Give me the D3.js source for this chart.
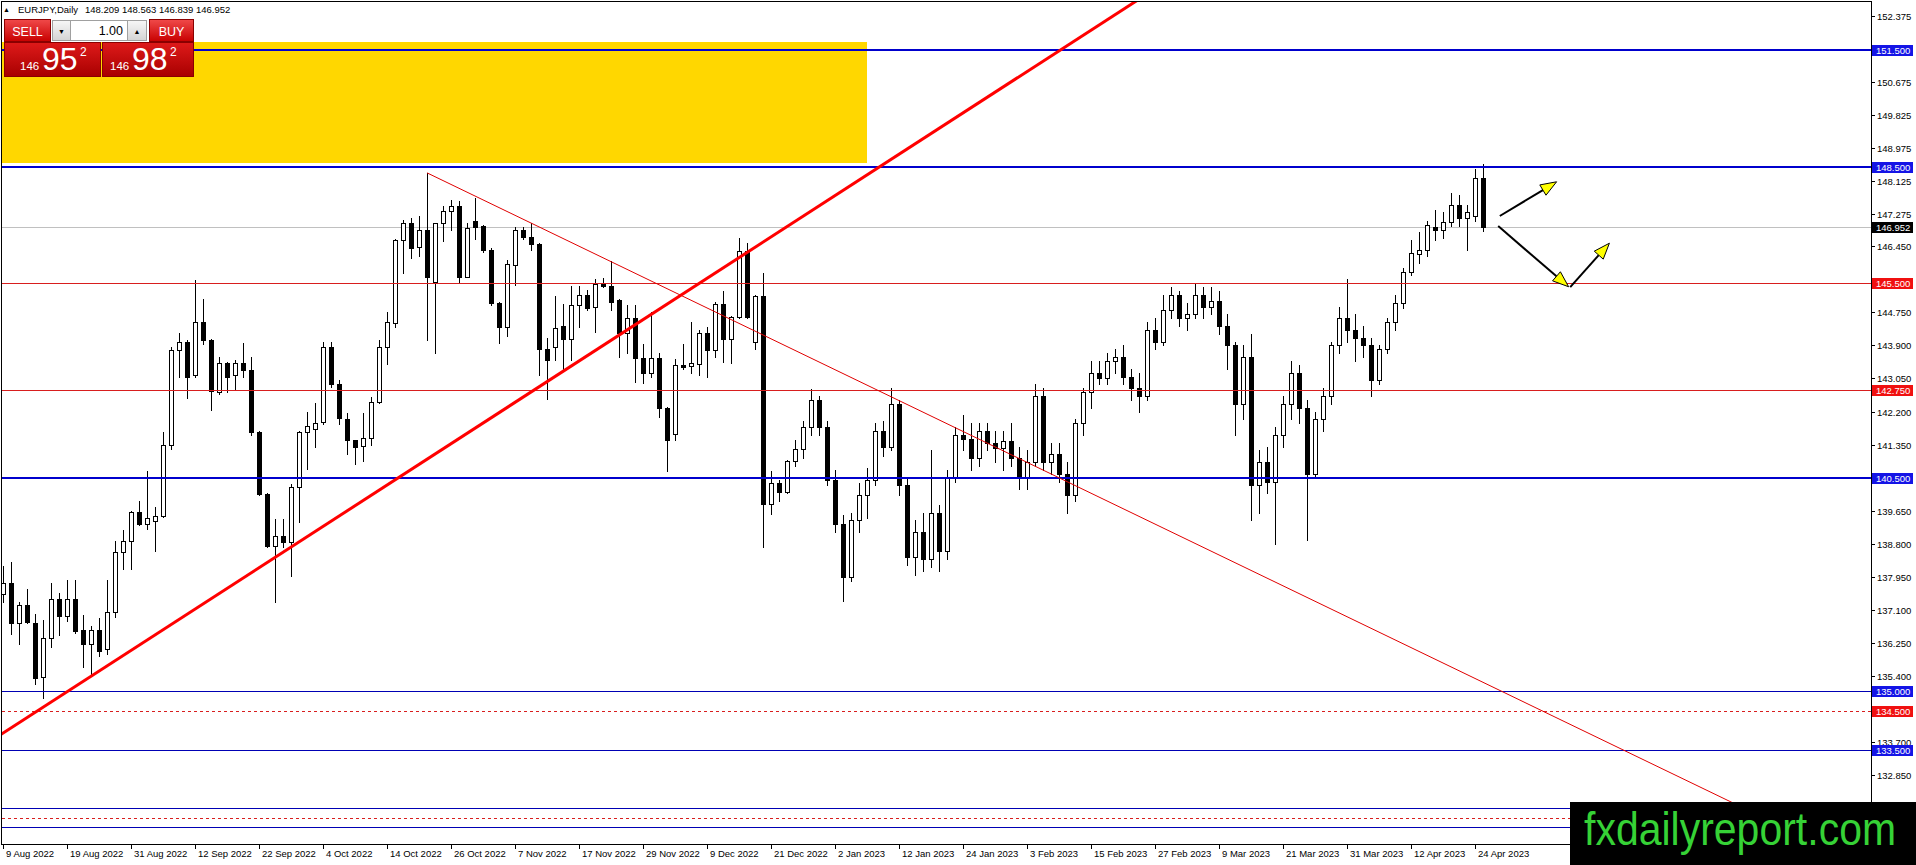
<!DOCTYPE html>
<html>
<head>
<meta charset="utf-8">
<script src="https://cdnjs.cloudflare.com/ajax/libs/d3/7.8.5/d3.min.js"></script>
<style>
  body { margin: 0; background: #fff; }
  svg { display: block; }
</style>
</head>
<body>
<div id="chart"></div>
<script>
// ---- data (EURJPY daily) ----
const symbolTitle = 'EURJPY,Daily';
const lastQuote = ['148.209', '148.563', '146.839', '146.952'];

const opens = [
  137.50,137.79,136.77,137.22,136.77,135.38,136.38,137.37,136.94,137.37,
  136.57,136.23,136.57,136.08,137.05,138.58,138.88,139.61,139.31,139.39,
  139.50,141.33,143.78,143.99,143.14,144.51,144.04,142.69,143.46,143.14,
  143.46,143.27,141.67,140.08,138.75,139.01,138.84,140.25,141.67,141.76,
  141.93,143.85,142.90,142.02,141.46,141.31,141.53,142.45,143.85,144.47,
  146.60,147.05,146.43,146.88,145.52,147.05,147.35,147.48,145.67,147.09,
  146.96,146.36,145.00,144.38,145.98,146.86,146.69,146.51,143.82,143.85,
  144.40,144.06,144.94,145.20,144.90,145.48,145.42,145.07,144.21,144.60,
  143.57,143.18,143.57,142.28,141.63,143.40,143.37,143.42,144.21,143.78,
  144.96,144.06,144.64,146.34,144.00,145.16,139.83,140.36,140.13,140.94,
  141.24,141.80,142.50,141.80,140.45,139.30,137.95,139.40,140.05,140.45,
  141.70,141.30,142.40,140.30,138.45,139.10,138.40,139.60,138.60,140.50,
  141.60,141.50,141.00,141.70,141.40,141.25,141.45,141.00,140.50,140.90,
  142.60,140.90,141.10,140.60,140.05,141.90,142.70,143.20,143.05,143.50,
  143.60,143.10,142.80,142.60,144.30,144.00,144.80,145.20,144.60,144.70,
  145.20,144.90,145.05,144.40,143.90,142.40,143.60,140.30,140.90,140.40,
  141.60,142.40,143.20,142.30,140.60,142.00,142.60,143.90,144.60,144.30,
  144.10,143.90,143.00,143.80,144.50,144.98,145.80,146.25,146.36,146.94,
  146.88,147.07,147.52,147.18,147.22,148.209
];
const highs = [
  138.23,138.32,137.31,137.63,136.98,136.83,137.78,137.54,137.86,137.86,
  136.97,136.68,136.88,137.86,138.88,139.14,139.65,139.91,140.68,139.74,
  141.67,143.87,144.23,144.03,145.59,145.09,144.06,143.61,143.48,143.52,
  143.97,143.61,141.70,140.10,139.44,139.44,140.34,141.70,142.19,142.41,
  143.99,143.99,143.01,142.15,141.48,142.15,142.58,144.04,144.77,146.65,
  147.14,147.18,147.24,148.34,147.06,147.48,147.65,147.61,147.05,147.69,
  147.00,146.41,145.03,146.09,146.95,146.95,147.05,146.53,144.08,145.16,
  144.96,145.42,145.42,145.33,145.60,145.63,146.08,145.09,144.94,144.94,
  143.95,144.77,143.70,142.32,143.54,143.95,144.51,144.31,144.38,145.03,
  145.29,144.66,146.66,146.54,145.20,145.76,140.68,140.43,140.96,141.46,
  141.95,142.79,142.60,141.95,140.70,139.55,139.60,140.35,140.75,141.90,
  141.95,142.80,142.50,140.50,139.40,139.60,141.20,139.80,140.70,141.80,
  142.10,141.90,141.90,141.90,141.70,141.70,141.90,141.30,141.20,142.90,
  142.80,141.40,141.40,140.90,142.00,142.80,143.50,143.50,143.70,143.80,
  143.90,143.30,143.20,144.50,144.60,145.20,145.40,145.30,145.00,145.50,
  145.40,145.40,145.30,144.70,144.00,143.90,144.20,141.20,141.30,141.80,
  142.60,143.50,143.40,142.50,142.20,142.80,144.00,144.90,145.60,144.70,
  144.40,144.10,143.90,144.60,145.20,145.89,146.62,146.83,147.09,147.39,
  147.33,147.82,147.78,147.52,148.43,148.563
];
const lows = [
  137.30,136.49,136.21,136.77,135.18,134.83,136.14,136.45,136.81,136.50,
  135.63,135.44,135.91,135.97,136.92,138.15,138.15,139.28,139.18,138.62,
  139.48,141.24,143.09,142.56,143.10,143.95,142.23,142.66,142.69,142.75,
  143.09,141.59,140.05,138.71,137.29,138.71,137.98,139.35,140.73,141.29,
  141.89,142.84,141.89,141.12,140.84,140.94,141.33,142.43,143.42,144.38,
  145.76,146.15,146.19,144.04,143.71,146.58,146.88,145.52,145.65,146.65,
  146.30,144.94,143.97,144.14,145.46,146.65,146.36,143.14,142.51,143.52,
  143.27,143.52,144.38,144.81,144.25,145.40,144.81,143.61,143.71,142.96,
  142.94,143.09,142.06,140.68,141.46,143.30,143.18,143.14,143.09,143.61,
  143.48,143.44,144.60,144.60,143.82,138.71,139.57,139.91,140.10,140.81,
  141.00,141.60,141.60,140.30,139.10,137.33,137.85,139.10,139.45,140.30,
  141.05,141.20,140.05,138.25,138.00,138.10,138.20,138.10,138.40,140.40,
  141.20,140.70,140.80,141.20,140.90,140.70,140.80,140.20,140.20,140.80,
  140.70,140.60,140.40,139.60,139.90,141.60,142.30,142.90,142.90,143.20,
  142.90,142.50,142.20,142.50,143.80,143.90,144.60,144.40,144.30,144.60,
  144.60,144.70,144.20,143.30,141.60,142.00,139.40,139.60,140.10,138.80,
  141.30,142.00,141.90,138.90,140.50,141.70,142.40,143.70,144.00,143.50,
  143.60,142.60,142.90,143.70,144.30,144.86,145.72,146.02,146.19,146.62,
  146.66,146.96,146.96,146.36,147.09,146.839
];
const closes = [
  137.80,136.77,137.22,136.78,135.35,136.38,137.37,136.94,137.37,136.56,
  136.23,136.57,136.04,137.05,138.58,138.88,139.61,139.31,139.45,139.50,
  141.33,143.78,143.99,143.09,144.51,144.04,142.72,143.46,143.08,143.46,
  143.27,141.67,140.08,138.75,139.01,138.84,140.25,141.67,141.82,141.91,
  143.85,142.90,142.04,141.48,141.29,141.53,142.45,143.85,144.51,146.60,
  147.05,146.41,146.88,145.67,147.05,147.35,147.48,145.67,146.92,146.94,
  146.36,145.00,144.38,146.00,146.86,146.69,146.51,143.82,143.52,144.36,
  144.06,144.94,145.20,144.86,145.48,145.42,145.03,144.23,144.60,143.57,
  143.18,143.57,142.28,141.48,143.40,143.35,143.44,144.21,143.78,144.96,
  144.06,144.64,146.34,144.64,145.16,139.83,140.36,140.13,140.94,141.24,
  141.80,142.50,141.80,140.45,139.30,137.95,139.40,140.05,140.45,141.70,
  141.30,142.40,140.30,138.45,139.10,138.40,139.60,138.60,140.50,141.60,
  141.50,141.00,141.70,141.40,141.25,141.45,141.00,140.50,140.90,142.60,
  140.90,141.10,140.60,140.05,141.90,142.70,143.20,143.05,143.50,143.60,
  143.10,142.80,142.60,144.30,144.00,144.80,145.20,144.60,144.70,145.20,
  144.90,145.05,144.40,143.90,142.40,143.60,140.30,140.90,140.40,141.60,
  142.40,143.20,142.30,140.60,142.00,142.60,143.90,144.60,144.30,144.10,
  143.90,143.00,143.80,144.50,144.98,145.80,146.28,146.36,147.01,146.88,
  147.07,147.52,147.18,147.33,148.21,146.952
];

const xTickLabels = ['9 Aug 2022','19 Aug 2022','31 Aug 2022','12 Sep 2022','22 Sep 2022','4 Oct 2022',
  '14 Oct 2022','26 Oct 2022','7 Nov 2022','17 Nov 2022','29 Nov 2022','9 Dec 2022','21 Dec 2022',
  '2 Jan 2023','12 Jan 2023','24 Jan 2023','3 Feb 2023','15 Feb 2023','27 Feb 2023','9 Mar 2023',
  '21 Mar 2023','31 Mar 2023','12 Apr 2023','24 Apr 2023'];
const yTickValues = [152.375,150.675,149.825,148.975,148.125,147.275,146.450,144.750,143.900,143.050,
  142.200,141.350,139.650,138.800,137.950,137.100,136.250,135.400,133.700,132.850];

// horizontal levels
const thickBlueLevels = [151.5, 148.5, 140.5];
const thinBlueLevels = [135.0, 133.5, 132.0, 131.5];
const redLevels = [145.5, 142.75];
const redDashedLevels = [134.5, 131.75];
const currentPrice = 146.952;

// drawn objects, as [bar index, price]
const zoneBars = [-10, 108];
const zonePrices = [148.6, 151.71];
const upTrend = [[-2, 133.66], [150, 153.87]];
const downTrend = [[53, 148.34], [235, 130.27]];
const arrowStarts = [[187.1, 147.23], [186.9, 146.97], [195.9, 145.40]];
const arrowEnds = [[194.2, 148.11], [195.7, 145.41], [200.8, 146.53]];

// ---- trading days on the category axis ----
const fmtDay = d3.utcFormat('%-d %b %Y');
const dates = d3.utcDay.range(new Date(Date.UTC(2022, 7, 9)), new Date(Date.UTC(2023, 3, 26)))
  .filter(d => d.getUTCDay() !== 0 && d.getUTCDay() !== 6)
  .map(fmtDay);

const bars = dates.map((d, i) => ({ d: d, i: i, o: opens[i], h: highs[i], l: lows[i], c: closes[i] }));

// ---- layout ----
const W = 1916, H = 865;
const plotL = 2, plotT = 2, plotR = 1871, plotB = 844;
const markTop = 802; // top of the watermark box
const FONT = "'Liberation Sans', Arial, sans-serif";

const x = d3.scaleLinear().domain([0, dates.length - 1]).range([3, 3 + 8 * (dates.length - 1)]);
const y = d3.scaleLinear().domain([132.85, 152.375]).range([775, 16]);
const px = v => Math.round(v) + 0.5;
const f3 = d3.format('.3f');

const svg = d3.select('#chart').append('svg')
  .attr('width', W)
  .attr('height', H)
  .style('font-family', FONT);

const defs = svg.append('defs');
defs.append('clipPath').attr('id', 'plotClip')
  .append('rect')
  .attr('x', plotL).attr('y', plotT)
  .attr('width', plotR - plotL).attr('height', plotB - plotT);

function gradient(id, top, bottom) {
  const lg = defs.append('linearGradient').attr('id', id)
    .attr('x1', 0).attr('y1', 0).attr('x2', 0).attr('y2', 1);
  lg.append('stop').attr('offset', '0%').attr('stop-color', top);
  lg.append('stop').attr('offset', '100%').attr('stop-color', bottom);
}
gradient('btnRed', '#f04a4a', '#c80000');
gradient('boxRed', '#de1a1a', '#a80000');
gradient('btnGray', '#f7f7f7', '#d4d4d4');

const plot = svg.append('g').attr('clip-path', 'url(#plotClip)');

// supply zone
plot.append('rect')
  .attr('x', x(zoneBars[0]))
  .attr('y', Math.round(y(zonePrices[1])))
  .attr('width', Math.round(x(zoneBars[1])) - x(zoneBars[0]))
  .attr('height', Math.round(y(zonePrices[0])) - Math.round(y(zonePrices[1])))
  .attr('fill', '#ffd700');

// current price line
plot.append('line')
  .attr('x1', plotL).attr('x2', plotR)
  .attr('y1', px(y(currentPrice))).attr('y2', px(y(currentPrice)))
  .attr('stroke', '#c0c0c0');

// candles
plot.selectAll('line.wick').data(bars).join('line')
  .attr('class', 'wick')
  .attr('x1', d => px(x(d.i))).attr('x2', d => px(x(d.i)))
  .attr('y1', d => Math.round(y(d.h))).attr('y2', d => Math.round(y(d.l)) + 1)
  .attr('stroke', '#000');

plot.selectAll('rect.body').data(bars).join('rect')
  .attr('class', 'body')
  .attr('x', d => Math.round(x(d.i)) - 2 + 0.5)
  .attr('y', d => Math.round(y(Math.max(d.o, d.c))) + 0.5)
  .attr('width', 4)
  .attr('height', d => Math.max(1, Math.round(y(Math.min(d.o, d.c))) - Math.round(y(Math.max(d.o, d.c)))))
  .attr('fill', d => d.c >= d.o ? '#fff' : '#000')
  .attr('stroke', '#000');

// horizontal levels
function hLines(values, color, width, dash) {
  plot.selectAll(null).data(values).join('line')
    .attr('x1', plotL).attr('x2', plotR)
    .attr('y1', d => width === 2 ? Math.round(y(d)) : px(y(d)))
    .attr('y2', d => width === 2 ? Math.round(y(d)) : px(y(d)))
    .attr('stroke', color)
    .attr('stroke-width', width)
    .attr('stroke-dasharray', dash);
}
hLines(thickBlueLevels, '#0000cd', 2, null);
hLines(thinBlueLevels, '#0000b4', 1, null);
hLines(redLevels, '#d81e1e', 1, null);
hLines(redDashedLevels, '#d81e1e', 1, '3,3');

// trend lines
const lineGen = d3.line().x(d => x(d[0])).y(d => y(d[1]));
plot.append('path').attr('d', lineGen(downTrend))
  .attr('fill', 'none').attr('stroke', '#e00000').attr('stroke-width', 1);
plot.append('path').attr('d', lineGen(upTrend))
  .attr('fill', 'none').attr('stroke', '#ff0000').attr('stroke-width', 3);

// arrows
arrowStarts.forEach((s, k) => {
  const e = arrowEnds[k];
  const x0 = x(s[0]), y0 = y(s[1]), x1 = x(e[0]), y1 = y(e[1]);
  const len = Math.hypot(x1 - x0, y1 - y0);
  const ux = (x1 - x0) / len, uy = (y1 - y0) / len;
  const headL = 16, headW = 6;
  const bx = x1 - ux * headL, by = y1 - uy * headL;
  plot.append('line')
    .attr('x1', x0).attr('y1', y0).attr('x2', bx).attr('y2', by)
    .attr('stroke', '#000').attr('stroke-width', 2);
  plot.append('polygon')
    .attr('points', [[x1, y1], [bx - uy * headW, by + ux * headW], [bx + uy * headW, by - ux * headW]]
      .map(p => p.join(',')).join(' '))
    .attr('fill', '#ffff00')
    .attr('stroke', '#000')
    .attr('stroke-width', 1);
});

// frame and axes
svg.append('rect')
  .attr('x', 1.5).attr('y', 1.5)
  .attr('width', plotR - 1).attr('height', plotB - 1)
  .attr('fill', 'none').attr('stroke', '#000');

const yAxis = svg.append('g');
yAxis.selectAll('line').data(yTickValues).join('line')
  .attr('x1', plotR).attr('x2', plotR + 4)
  .attr('y1', d => px(y(d))).attr('y2', d => px(y(d)))
  .attr('stroke', '#000');
yAxis.selectAll('text').data(yTickValues).join('text')
  .attr('x', plotR + 6)
  .attr('y', d => Math.round(y(d)) + 4)
  .attr('font-size', '9.5px')
  .attr('fill', '#000')
  .text(d => f3(d));

const xAxis = svg.append('g');
xAxis.selectAll('line').data(xTickLabels).join('line')
  .attr('x1', d => px(x(dates.indexOf(d)))).attr('x2', d => px(x(dates.indexOf(d))))
  .attr('y1', plotB).attr('y2', plotB + 5)
  .attr('stroke', '#000');
xAxis.selectAll('text').data(xTickLabels).join('text')
  .attr('x', d => Math.round(x(dates.indexOf(d))) + 3)
  .attr('y', 857)
  .attr('font-size', '9.5px')
  .attr('fill', '#000')
  .text(d => d);

// price tags on the scale (the ones under the watermark are not shown)
function priceTags(values, bg) {
  const shown = values.filter(d => y(d) + 6 < markTop);
  const g = svg.append('g');
  g.selectAll('rect').data(shown).join('rect')
    .attr('x', plotR + 1).attr('y', d => Math.round(y(d)) - 5)
    .attr('width', 41).attr('height', 11)
    .attr('fill', bg);
  g.selectAll('text').data(shown).join('text')
    .attr('x', plotR + 5).attr('y', d => Math.round(y(d)) + 4)
    .attr('font-size', '9.5px')
    .attr('fill', '#fff')
    .text(d => f3(d));
}
priceTags(thickBlueLevels.concat(thinBlueLevels), '#1414e6');
priceTags(redLevels.concat(redDashedLevels), '#f01010');
priceTags([currentPrice], '#000');

// header
svg.append('text').attr('x', 3).attr('y', 12).attr('font-size', '7px').text('\u25B2');
svg.append('text').attr('x', 18).attr('y', 13).attr('font-size', '9.5px').text(symbolTitle);
svg.append('text').attr('x', 85).attr('y', 13).attr('font-size', '9.5px').text(lastQuote.join(' '));

// one-click trading panel
const panel = svg.append('g');
panel.append('rect').attr('x', 4.5).attr('y', 19.5).attr('width', 46).attr('height', 22)
  .attr('fill', 'url(#btnRed)').attr('stroke', '#8a0000');
panel.append('rect').attr('x', 149.5).attr('y', 19.5).attr('width', 44).attr('height', 22)
  .attr('fill', 'url(#btnRed)').attr('stroke', '#8a0000');
panel.append('rect').attr('x', 52.5).attr('y', 20.5).attr('width', 18).attr('height', 20)
  .attr('fill', 'url(#btnGray)').attr('stroke', '#a0a0a0');
panel.append('rect').attr('x', 70.5).attr('y', 20.5).attr('width', 57).attr('height', 20)
  .attr('fill', '#fff').attr('stroke', '#a0a0a0');
panel.append('rect').attr('x', 127.5).attr('y', 20.5).attr('width', 19).attr('height', 20)
  .attr('fill', 'url(#btnGray)').attr('stroke', '#a0a0a0');
panel.append('rect').attr('x', 4.5).attr('y', 42.5).attr('width', 96).attr('height', 34)
  .attr('fill', 'url(#boxRed)').attr('stroke', '#8a0000');
panel.append('rect').attr('x', 102.5).attr('y', 42.5).attr('width', 91).attr('height', 34)
  .attr('fill', 'url(#boxRed)').attr('stroke', '#8a0000');

panel.append('text').attr('x', 27.5).attr('y', 36).attr('text-anchor', 'middle')
  .attr('font-size', '12.5px').attr('fill', '#fff').text('SELL');
panel.append('text').attr('x', 171.5).attr('y', 36).attr('text-anchor', 'middle')
  .attr('font-size', '12.5px').attr('fill', '#fff').text('BUY');
panel.append('text').attr('x', 61.5).attr('y', 34).attr('text-anchor', 'middle')
  .attr('font-size', '7px').attr('fill', '#000').text('\u25BC');
panel.append('text').attr('x', 137).attr('y', 34).attr('text-anchor', 'middle')
  .attr('font-size', '7px').attr('fill', '#000').text('\u25B2');
panel.append('text').attr('x', 123).attr('y', 35).attr('text-anchor', 'end')
  .attr('font-size', '12.5px').attr('fill', '#000').text('1.00');

const quotes = [
  { x: 20, big: '95', small: '2' },
  { x: 110, big: '98', small: '2' }
];
quotes.forEach(q => {
  panel.append('text').attr('x', q.x).attr('y', 70)
    .attr('font-size', '11.5px').attr('fill', '#fff').text('146');
  panel.append('text').attr('x', q.x + 22).attr('y', 70)
    .attr('font-size', '32px').attr('fill', '#fff').text(q.big);
  panel.append('text').attr('x', q.x + 60).attr('y', 56)
    .attr('font-size', '12px').attr('fill', '#fff').text(q.small);
});

// watermark
svg.append('rect')
  .attr('x', 1570).attr('y', markTop)
  .attr('width', W - 1570).attr('height', H - markTop)
  .attr('fill', '#000');
svg.append('text')
  .attr('transform', 'translate(1584,845) scale(1,1.12)')
  .attr('font-size', '41px')
  .attr('fill', '#36d236')
  .text('fxdailyreport.com');
</script>
</body>
</html>
